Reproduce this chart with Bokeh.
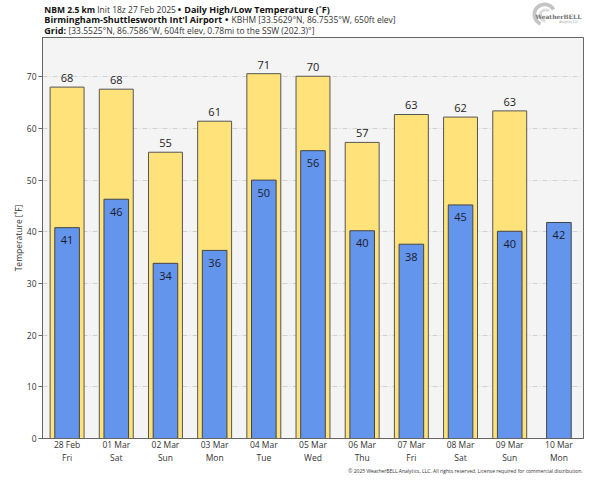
from bokeh.plotting import figure
from bokeh.models import FactorRange, Range1d, ColumnDataSource
from bokeh.layouts import column
from bokeh.embed import file_html
from bokeh.resources import INLINE
from bokeh.core.properties import value

# ---- data ----
dates = ["28 Feb", "01 Mar", "02 Mar", "03 Mar", "04 Mar", "05 Mar",
         "06 Mar", "07 Mar", "08 Mar", "09 Mar", "10 Mar"]
days = ["Fri", "Sat", "Sun", "Mon", "Tue", "Wed", "Thu", "Fri", "Sat", "Sun", "Mon"]
highs = [68.0, 67.6, 55.4, 61.4, 70.6, 70.1, 57.3, 62.7, 62.2, 63.4]
lows = [40.8, 46.3, 33.9, 36.4, 50.0, 55.7, 40.2, 37.6, 45.2, 40.1, 41.8]
y_ticks = [0, 10, 20, 30, 40, 50, 60, 70]

cats = [f"{d}\n{w}" for d, w in zip(dates, days)]

FONT = "Open Sans"
W = 584
HEAD_H = 36
FOOT_H = 12
MAIN_H = 477 - HEAD_H - FOOT_H


def text_fig(height):
    f = figure(width=W, height=height, x_range=Range1d(0, W), y_range=Range1d(height, 0),
               x_axis_type=None, y_axis_type=None, output_backend="svg",
               toolbar_location=None, min_border=0, outline_line_color=None,
               background_fill_color="white", border_fill_color="white")
    return f


def put(f, x, y, t, bold=False, color="#111111", size=None, font=FONT,
        align="left", base="alphabetic"):
    if size is None:
        size = "9px" if bold else "8.5px"
    f.text(x=[x], y=[y], text=[t], text_font=value(font), text_font_size=size,
           text_font_style="bold" if bold else "normal", text_color=color,
           text_align=align, text_baseline=base)


# ---------------- header ----------------
h = text_fig(HEAD_H)
B1, B2, B3 = 8.5, 19, 29.5
put(h, 2, B1, "NBM 2.5 km", bold=True, size="8.5px")
put(h, 59, B1, "Init 18z 27 Feb 2025", color="#333333")
put(h, 146, B1, "•", bold=True)
put(h, 153, B1, "Daily High/Low Temperature (˚F)", bold=True)
put(h, 2, B2, "Birmingham-Shuttlesworth Int'l Airport", bold=True)
put(h, 197, B2, "•", bold=True)
put(h, 204, B2, "KBHM [33.5629°N, 86.7535°W, 650ft elev]", color="#333333")
put(h, 2, B3, "Grid:", bold=True)
put(h, 28, B3, "[33.5525°N, 86.7586°W, 604ft elev, 0.78mi to the SSW (202.3)°]",
    color="#333333")

# logo (swirl + wordmark)
h.annular_wedge(x=[542], y=[14], inner_radius=9, outer_radius=13, start_angle=0.5,
                end_angle=4.3, fill_color="#c4c4c4", line_color=None)
h.annular_wedge(x=[543], y=[15], inner_radius=4.5, outer_radius=7.5, start_angle=0.9,
                end_angle=4.7, fill_color="#dcdcdc", line_color=None)
put(h, 557, 16, "WeatherBELL", bold=True, color="#6e6e6e", size="6px",
    font="DejaVu Serif", align="center", base="middle")
put(h, 568, 21.5, "Analytics, LLC", color="#9a9a9a", size="3px",
    align="center", base="middle")

# ---------------- main chart ----------------
p = figure(width=W, height=MAIN_H,
           x_range=FactorRange(factors=cats, range_padding=0),
           y_range=Range1d(0, 77.6),
           output_backend="svg", toolbar_location=None,
           min_border_left=42, min_border_right=1,
           min_border_top=1, min_border_bottom=20,
           background_fill_color="#f4f4f4", border_fill_color="white",
           outline_line_color="#666666", outline_line_width=1)

hi_src = ColumnDataSource(dict(x=cats[:len(highs)], top=highs,
                               lab=[str(int(round(v))) for v in highs]))
lo_src = ColumnDataSource(dict(x=cats, top=lows,
                               lab=[str(int(round(v))) for v in lows]))

p.vbar(x="x", top="top", bottom=0, width=0.69, source=hi_src,
       fill_color="#FFE37A", line_color="#555555", line_width=1)
p.vbar(x="x", top="top", bottom=0, width=0.5, source=lo_src,
       fill_color="#6495ED", line_color="#444444", line_width=1)

p.text(x="x", y="top", text="lab", source=hi_src, text_align="center",
       text_baseline="alphabetic", y_offset=-9, text_font=value(FONT),
       text_font_size="11px", text_color="#222222")
p.text(x="x", y="top", text="lab", source=lo_src, text_align="center",
       text_baseline="alphabetic", y_offset=12.5, text_font=value(FONT),
       text_font_size="11px", text_color="#1a1a2a")

# axes
p.yaxis.ticker = y_ticks
p.yaxis.axis_label = "Temperature [˚F]"
p.yaxis.axis_label_text_font = FONT
p.yaxis.axis_label_text_font_size = "8.5px"
p.yaxis.axis_label_text_font_style = "normal"
p.yaxis.axis_label_text_color = "#333333"
p.yaxis.axis_label_standoff = 0
p.yaxis.minor_tick_line_color = None
p.yaxis.major_tick_out = 4
p.yaxis.major_tick_in = 0
p.yaxis.major_label_standoff = 2
p.axis.major_label_text_font = FONT
p.axis.major_label_text_font_size = "8.5px"
p.axis.major_label_text_color = "#333333"
p.axis.axis_line_color = "#666666"
p.axis.major_tick_line_color = "#666666"
p.xaxis.axis_label = None
p.xaxis.major_tick_line_color = None
p.xaxis.major_tick_out = 0
p.xaxis.major_tick_in = 0
p.xaxis.major_label_standoff = 0

p.xgrid.grid_line_color = None
p.ygrid.grid_line_color = "#c8c8c8"
p.ygrid.grid_line_dash = "5 2 1 2"
p.ygrid.grid_line_width = 0.8

# ---------------- footer ----------------
ft = text_fig(FOOT_H)
put(ft, 583, 5, "© 2025 WeatherBELL Analytics, LLC. All rights reserved. "
                "License required for commercial distribution.",
    color="#333333", size="5px", align="right", base="middle")

layout = column(h, p, ft, spacing=0)
open("out.html", "w").write(file_html(layout, INLINE))
